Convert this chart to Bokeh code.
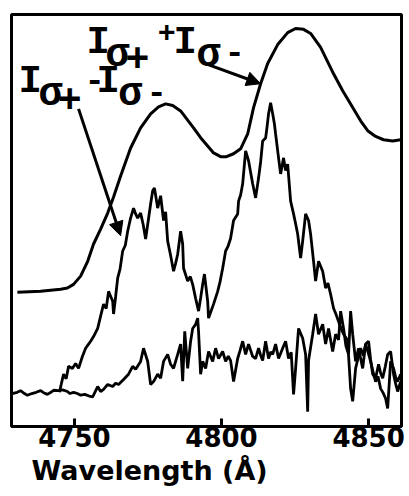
from bokeh.plotting import figure
from bokeh.models import Range1d, Label, Arrow, NormalHead, FixedTicker, Title
from bokeh.embed import file_html
from bokeh.resources import INLINE

# ---- data (wavelength in Å, intensity in arbitrary units) ----
sum_wl = [4730.6, 4738.5, 4745.3, 4747.6, 4749.7, 4752.1, 4754.5, 4756.5, 4758.9, 4761.3,
          4763.3, 4765.7, 4769.1, 4772.5, 4775.9, 4778.6, 4781.0, 4783.4, 4786.1, 4790.5,
          4792.9, 4795.3, 4797.3, 4799.7, 4801.7, 4804.1, 4806.5, 4808.9, 4810.9, 4813.3,
          4815.7, 4819.1, 4822.5, 4825.2, 4827.9, 4830.3, 4833.7, 4838.1, 4841.2, 4843.9,
          4847.3, 4849.7, 4852.4, 4855.1, 4858.2, 4860.9]
sum_val = [32.6, 32.8, 33.3, 33.6, 34.5, 36.5, 40.1, 44.3, 47.9, 51.8,
           55.7, 60.8, 67.6, 72.5, 75.9, 77.6, 78.3, 77.9, 76.6, 72.5,
           70.1, 68.1, 66.4, 65.5, 65.5, 66.2, 67.4, 71.0, 77.4, 83.2,
           88.1, 92.7, 95.6, 96.6, 96.4, 95.4, 92.0, 85.6, 81.5, 78.3,
           74.2, 71.8, 70.4, 69.6, 69.3, 69.6]

diff_wl = [4744.9, 4746.3, 4747.2, 4748.0, 4749.3, 4750.4, 4751.4, 4752.7, 4753.8, 4754.8,
           4755.5, 4756.7, 4757.9, 4758.9, 4759.9, 4760.8, 4761.6, 4763.0, 4763.3, 4764.0,
           4764.7, 4765.5, 4766.4, 4767.3, 4768.1, 4769.1, 4770.1, 4770.8, 4771.5, 4772.5,
           4773.4, 4774.2, 4775.2, 4775.9, 4776.6, 4777.2, 4778.3, 4779.3, 4780.3, 4781.0,
           4781.7, 4782.7, 4783.7, 4784.4, 4785.1, 4786.1, 4786.8, 4787.1, 4788.5, 4789.4,
           4790.2, 4791.2, 4792.2, 4792.9, 4793.6, 4794.2, 4795.3, 4795.6, 4796.5, 4797.3,
           4798.7, 4799.5, 4800.4, 4801.4, 4802.2, 4803.1, 4804.1, 4805.5, 4805.8, 4806.5,
           4807.2, 4808.2, 4809.2, 4810.0, 4810.6, 4811.6, 4812.6, 4813.3, 4814.0, 4815.0,
           4815.5, 4816.0, 4816.7, 4817.4, 4818.0, 4818.4, 4819.4, 4820.1, 4821.1, 4821.8,
           4822.5, 4823.5, 4824.5, 4825.2, 4825.9, 4826.9, 4827.6, 4828.6, 4829.6, 4830.3,
           4831.3, 4832.0, 4833.0, 4834.4, 4835.4, 4836.2, 4837.1, 4838.1, 4839.0, 4839.8,
           4840.6, 4841.5, 4842.3, 4842.9, 4843.9, 4844.6, 4845.6, 4846.5, 4847.3, 4848.2,
           4849.0, 4849.8, 4850.7, 4851.5, 4852.4, 4853.2, 4854.1, 4855.0, 4855.8, 4856.5,
           4857.5, 4858.5, 4859.2, 4859.9, 4860.9]
diff_val = [8.3, 12.7, 11.6, 14.6, 14.1, 15.3, 14.1, 17.0, 19.0, 20.0,
            20.7, 22.1, 23.8, 26.8, 29.7, 28.6, 32.8, 30.4, 27.3, 31.5,
            36.0, 38.2, 42.6, 44.0, 47.4, 50.6, 53.0, 51.6, 50.6, 51.8,
            48.9, 45.5, 50.5, 54.0, 57.2, 57.9, 53.0, 56.0, 50.0, 52.1,
            45.0, 41.5, 37.7, 39.6, 41.8, 47.4, 44.3, 38.4, 35.3, 36.4,
            34.5, 31.1, 28.0, 31.2, 34.5, 37.0, 30.4, 26.3, 28.1, 29.7,
            32.8, 35.1, 38.4, 42.6, 43.7, 45.7, 50.0, 51.6, 54.7, 56.2,
            58.9, 66.9, 64.5, 61.3, 58.9, 55.5, 60.3, 64.2, 69.3, 70.0,
            72.8, 75.9, 78.6, 75.9, 73.4, 71.0, 65.2, 61.3, 65.2, 62.1,
            63.7, 54.7, 51.6, 49.2, 46.7, 40.9, 45.0, 51.6, 50.0, 46.7,
            40.1, 35.3, 40.1, 37.7, 33.6, 34.8, 32.1, 28.7, 27.1, 25.5,
            23.9, 22.4, 21.6, 20.7, 9.2, 6.1, 14.1, 16.8, 19.0, 17.2,
            20.0, 18.1, 15.8, 13.4, 10.9, 12.2, 9.2, 8.1, 6.8, 4.4,
            15.8, 14.1, 12.0, 10.9, 12.7]

base_wl = [4728.9, 4730.5, 4731.7, 4733.0, 4734.0, 4735.5, 4737.0, 4738.5, 4739.5, 4740.8,
           4742.0, 4742.9, 4744.5, 4746.0, 4747.6, 4748.5, 4749.7, 4751.0, 4752.1, 4753.5,
           4755.0, 4756.2, 4757.9, 4758.9, 4759.9, 4761.3, 4763.0, 4764.0, 4765.0, 4766.7,
           4768.4, 4769.8, 4770.8, 4772.5, 4773.5, 4774.9, 4775.9, 4776.9, 4778.3, 4779.3,
           4780.3, 4781.7, 4782.7, 4783.7, 4785.1, 4786.1, 4786.8, 4787.5, 4788.5, 4789.5,
           4790.2, 4791.2, 4791.9, 4792.2, 4792.9, 4793.6, 4794.6, 4795.6, 4797.0, 4798.0,
           4799.0, 4800.4, 4801.4, 4802.3, 4803.1, 4804.1, 4805.5, 4806.3, 4807.2, 4808.2,
           4809.2, 4810.6, 4811.6, 4812.6, 4813.3, 4814.0, 4815.0, 4816.0, 4816.7, 4817.4,
           4818.4, 4819.4, 4820.8, 4821.8, 4822.8, 4823.7, 4824.5, 4825.2, 4826.2, 4827.6,
           4828.6, 4829.3, 4829.6, 4831.0, 4832.0, 4833.0, 4834.4, 4835.4, 4836.4, 4837.8,
           4838.8, 4839.8, 4840.5, 4841.5, 4842.3, 4843.2, 4843.9, 4844.6, 4845.6, 4846.6,
           4848.0, 4849.0, 4850.0, 4850.7, 4851.4, 4852.4, 4853.4, 4854.1, 4854.8, 4855.7,
           4856.5, 4857.5, 4858.5, 4859.2, 4859.9, 4860.9]
base_val = [8.0, 8.3, 8.7, 8.0, 7.6, 8.0, 8.3, 8.7, 8.2, 7.8,
            8.3, 8.8, 8.7, 8.9, 8.5, 8.0, 8.3, 8.0, 7.6, 7.8,
            7.4, 7.2, 9.7, 8.5, 9.0, 10.2, 9.7, 10.5, 10.2, 11.4,
            12.7, 14.6, 13.9, 15.8, 19.0, 15.8, 10.2, 10.9, 12.7, 11.7,
            15.8, 17.5, 15.1, 14.1, 17.5, 20.0, 11.0, 23.1, 14.1, 20.7,
            23.8, 24.8, 26.3, 23.0, 12.7, 15.8, 14.1, 18.2, 15.8, 19.0,
            16.5, 18.2, 15.8, 17.1, 16.0, 10.9, 16.5, 18.4, 20.7, 17.5,
            20.0, 17.0, 16.5, 19.0, 17.3, 16.0, 20.7, 16.5, 18.1, 17.5,
            20.0, 16.5, 19.0, 20.7, 16.5, 18.0, 7.8, 14.1, 23.8, 21.4,
            17.5, 3.6, 16.0, 22.4, 27.3, 22.4, 24.8, 20.0, 23.8, 18.2,
            22.4, 21.0, 28.0, 23.8, 19.6, 17.5, 28.0, 22.4, 15.8, 19.0,
            14.1, 20.0, 20.7, 16.2, 12.7, 11.7, 15.1, 13.0, 11.7, 14.6,
            17.5, 18.2, 12.7, 10.4, 8.5, 10.9]

x_ticks = [4750, 4800, 4850]
x_label = "Wavelength (Å)"

# ---- figure ----
p = figure(width=406, height=489, output_backend="svg", toolbar_location=None,
           x_range=Range1d(4728.6, 4861.2), y_range=Range1d(0, 100),
           min_border_left=11, min_border_right=5, min_border_top=14, min_border_bottom=0)
p.background_fill_color = "white"
p.border_fill_color = "white"
p.outline_line_color = "black"
p.outline_line_width = 3
p.xgrid.visible = False
p.ygrid.visible = False
p.yaxis.visible = False

ax = p.xaxis[0]
ax.ticker = FixedTicker(ticks=x_ticks)
ax.major_tick_in = 8
ax.major_tick_out = 0
ax.minor_tick_line_color = None
ax.major_tick_line_width = 3
ax.axis_line_width = 3
ax.major_label_text_font = "DejaVu Sans"
ax.major_label_text_font_style = "bold"
ax.major_label_text_font_size = "26px"
ax.major_label_text_color = "black"
ax.major_label_standoff = 0

p.line(sum_wl, sum_val, line_color="black", line_width=3)
p.line(diff_wl, diff_val, line_color="black", line_width=2.8)
p.line(base_wl, base_val, line_color="black", line_width=2.8)

# axis title, as a title below the axis, slightly left of centre as in the original
p.add_layout(Title(text=x_label, align="left", offset=20, standoff=7,
                   text_font="DejaVu Sans", text_font_style="bold",
                   text_font_size="27px", text_color="black"), "below")

# arrows
p.add_layout(Arrow(x_start=4793.6, y_start=88.3, x_end=4813.3, y_end=83.2,
                   line_width=3, line_color="black",
                   end=NormalHead(size=14, fill_color="black", line_color="black")))
p.add_layout(Arrow(x_start=4751.4, y_start=77.1, x_end=4765.7, y_end=46.3,
                   line_width=3, line_color="black",
                   end=NormalHead(size=14, fill_color="black", line_color="black")))

# labels (each glyph placed separately to mimic sub/superscripts)
pieces = [
    ("I", 4754.1, 93.2, "39px"), ("σ", 4760.6, 90.1, "40px"), ("+", 4767.4, 89.6, "40px"),
    ("+", 4778.3, 95.7, "30px"), ("I", 4783.7, 93.2, "39px"), ("σ", 4791.5, 90.1, "40px"),
    ("-", 4801.0, 91.0, "34px"),
    ("I", 4731.0, 83.5, "39px"), ("σ", 4737.8, 80.6, "40px"), ("+", 4744.3, 79.6, "40px"),
    ("-", 4753.4, 84.0, "34px"), ("I", 4757.5, 83.5, "39px"), ("σ", 4764.9, 80.6, "40px"),
    ("-", 4774.5, 81.1, "34px"),
]
for t, x, y, s in pieces:
    p.add_layout(Label(x=x, y=y, text=t, text_font="Liberation Mono", text_font_style="bold",
                       text_font_size=s, text_color="black", text_baseline="alphabetic"))

open("out.html", "w").write(file_html(p, INLINE))
